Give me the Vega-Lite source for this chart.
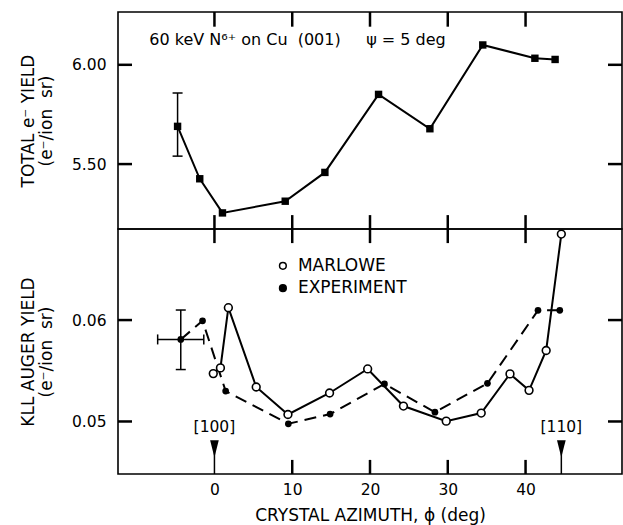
{
  "$schema": "https://vega.github.io/schema/vega-lite/v6.json",
  "padding": {"left": 18, "top": 9, "right": 1, "bottom": 0},
  "background": "white",
  "spacing": 0,
  "bounds": "flush",
  "datasets": {
    "total": [
      {"phi": -4.74, "yield": 5.69},
      {"phi": -1.89, "yield": 5.426},
      {"phi": 1.03, "yield": 5.254},
      {"phi": 9.1, "yield": 5.313},
      {"phi": 14.2, "yield": 5.458},
      {"phi": 21.1, "yield": 5.851},
      {"phi": 27.7, "yield": 5.678},
      {"phi": 34.5, "yield": 6.1},
      {"phi": 41.2, "yield": 6.033},
      {"phi": 43.8, "yield": 6.027}
    ],
    "totalErr": [
      {"phi": -4.74, "lo": 5.54, "hi": 5.858}
    ],
    "totalCaps": [
      {"phi": -4.74, "v": 5.54},
      {"phi": -4.74, "v": 5.858}
    ],
    "topNote": [
      {"phi": -8.38, "v": 6.127, "label": "60 keV N⁶⁺ on Cu\u00a0 (001)\u00a0\u00a0\u00a0\u00a0 ψ = 5 deg"}
    ],
    "topXTicks": [
      {"phi": 0, "a": 6.266, "b": 6.192}, {"phi": 10, "a": 6.266, "b": 6.192}, {"phi": 20, "a": 6.266, "b": 6.192}, {"phi": 30, "a": 6.266, "b": 6.192}, {"phi": 40, "a": 6.266, "b": 6.192},
      {"phi": 0, "a": 5.173, "b": 5.243}, {"phi": 10, "a": 5.173, "b": 5.243}, {"phi": 20, "a": 5.173, "b": 5.243}, {"phi": 30, "a": 5.173, "b": 5.243}, {"phi": 40, "a": 5.173, "b": 5.243}
    ],
    "topYTicks": [
      {"v": 5.5, "a": -12.4, "b": -10.6}, {"v": 6.0, "a": -12.4, "b": -10.6},
      {"v": 5.5, "a": 52.4, "b": 50.6}, {"v": 6.0, "a": 52.4, "b": 50.6}
    ],
    "botXTicks": [
      {"phi": 0, "a": 0.06898, "b": 0.06759}, {"phi": 10, "a": 0.06898, "b": 0.06759}, {"phi": 20, "a": 0.06898, "b": 0.06759}, {"phi": 30, "a": 0.06898, "b": 0.06759}, {"phi": 40, "a": 0.06898, "b": 0.06759},
      {"phi": 10, "a": 0.04482, "b": 0.04621}, {"phi": 20, "a": 0.04482, "b": 0.04621}, {"phi": 30, "a": 0.04482, "b": 0.04621}, {"phi": 40, "a": 0.04482, "b": 0.04621}
    ],
    "botYTicks": [
      {"v": 0.05, "a": -12.4, "b": -10.6}, {"v": 0.06, "a": -12.4, "b": -10.6},
      {"v": 0.05, "a": 52.4, "b": 50.6}, {"v": 0.06, "a": 52.4, "b": 50.6}
    ],
    "auger": [
      {"series": "MARLOWE", "phi": -0.15, "yield": 0.05472},
      {"series": "MARLOWE", "phi": 0.77, "yield": 0.05528},
      {"series": "MARLOWE", "phi": 1.79, "yield": 0.06122},
      {"series": "MARLOWE", "phi": 5.37, "yield": 0.0534},
      {"series": "MARLOWE", "phi": 9.45, "yield": 0.05069},
      {"series": "MARLOWE", "phi": 14.8, "yield": 0.05281},
      {"series": "MARLOWE", "phi": 19.7, "yield": 0.05518},
      {"series": "MARLOWE", "phi": 24.3, "yield": 0.05152},
      {"series": "MARLOWE", "phi": 29.8, "yield": 0.05003},
      {"series": "MARLOWE", "phi": 34.3, "yield": 0.05083},
      {"series": "MARLOWE", "phi": 38.0, "yield": 0.05469},
      {"series": "MARLOWE", "phi": 40.45, "yield": 0.05307},
      {"series": "MARLOWE", "phi": 42.65, "yield": 0.057},
      {"series": "MARLOWE", "phi": 44.6, "yield": 0.06848},
      {"series": "EXPERIMENT", "phi": -4.33, "yield": 0.05809},
      {"series": "EXPERIMENT", "phi": -1.53, "yield": 0.05993},
      {"series": "EXPERIMENT", "phi": 1.44, "yield": 0.053},
      {"series": "EXPERIMENT", "phi": 9.5, "yield": 0.04977},
      {"series": "EXPERIMENT", "phi": 14.87, "yield": 0.05073},
      {"series": "EXPERIMENT", "phi": 21.86, "yield": 0.0537},
      {"series": "EXPERIMENT", "phi": 28.35, "yield": 0.05092},
      {"series": "EXPERIMENT", "phi": 35.1, "yield": 0.05376},
      {"series": "EXPERIMENT", "phi": 41.6, "yield": 0.06096},
      {"series": "EXPERIMENT", "phi": 44.4, "yield": 0.06096}
    ],
    "augerVErr": [
      {"phi": -4.33, "lo": 0.05512, "hi": 0.06099}
    ],
    "augerHErr": [
      {"v": 0.05809, "lo": -7.3, "hi": -1.37}
    ],
    "augerVCaps": [
      {"phi": -4.33, "v": 0.05512},
      {"phi": -4.33, "v": 0.06099}
    ],
    "augerHCaps": [
      {"phi": -7.3, "v": 0.05809},
      {"phi": -1.37, "v": 0.05809}
    ],
    "arrows": [
      {"phi": 0, "head": 0.0473, "base": 0.04482, "labelY": 0.04944, "label": "[100]"},
      {"phi": 44.6, "head": 0.0473, "base": 0.04482, "labelY": 0.04944, "label": "[110]"}
    ],
    "legend": [
      {"phi": 8.8, "tphi": 10.73, "v": 0.06535, "label": "MARLOWE", "fill": "white"},
      {"phi": 8.8, "tphi": 10.73, "v": 0.06314, "label": "EXPERIMENT", "fill": "black"}
    ]
  },
  "vconcat": [
    {
      "width": 504,
      "height": 217,
      "layer": [
        {
          "data": {"name": "total"},
          "mark": {"type": "line", "color": "black", "strokeWidth": 2},
          "encoding": {
            "x": {"field": "phi", "type": "quantitative", "scale": {"domain": [-12.4, 52.4], "nice": false, "zero": false},
                  "axis": null},
            "y": {"field": "yield", "type": "quantitative", "scale": {"domain": [5.173, 6.266], "nice": false, "zero": false},
                  "axis": {"orient": "left", "values": [5.5, 6.0], "format": ".2f", "ticks": false, "title": ["TOTAL e⁻ YIELD", "(e⁻/ion\u00a0\u00a0sr)"]}}
          }
        },
        {
          "data": {"name": "topXTicks"},
          "mark": {"type": "rule", "color": "#000000", "strokeWidth": 2.5},
          "encoding": {
            "x": {"field": "phi", "type": "quantitative"},
            "y": {"field": "a", "type": "quantitative"},
            "y2": {"field": "b"}
          }
        },
        {
          "data": {"name": "topYTicks"},
          "mark": {"type": "rule", "color": "#000000", "strokeWidth": 2.5},
          "encoding": {
            "x": {"field": "a", "type": "quantitative"},
            "x2": {"field": "b"},
            "y": {"field": "v", "type": "quantitative"}
          }
        },
        {
          "data": {"name": "total"},
          "mark": {"type": "point", "shape": "square", "filled": true, "color": "black", "size": 55, "opacity": 1},
          "encoding": {
            "x": {"field": "phi", "type": "quantitative"},
            "y": {"field": "yield", "type": "quantitative"}
          }
        },
        {
          "data": {"name": "totalErr"},
          "mark": {"type": "rule", "color": "black", "strokeWidth": 1.5},
          "encoding": {
            "x": {"field": "phi", "type": "quantitative"},
            "y": {"field": "lo", "type": "quantitative"},
            "y2": {"field": "hi"}
          }
        },
        {
          "data": {"name": "totalCaps"},
          "mark": {"type": "tick", "orient": "horizontal", "color": "black", "size": 10, "thickness": 1.5, "opacity": 1},
          "encoding": {
            "x": {"field": "phi", "type": "quantitative"},
            "y": {"field": "v", "type": "quantitative"}
          }
        },
        {
          "data": {"name": "topNote"},
          "mark": {"type": "text", "align": "left", "baseline": "middle", "font": "DejaVu Sans", "fontSize": 16, "color": "black"},
          "encoding": {
            "x": {"field": "phi", "type": "quantitative"},
            "y": {"field": "v", "type": "quantitative"},
            "text": {"field": "label"}
          }
        }
      ]
    },
    {
      "width": 504,
      "height": 245,
      "layer": [
        {
          "data": {"name": "auger"},
          "transform": [{"filter": "datum.series === 'EXPERIMENT'"}],
          "mark": {"type": "line", "color": "black", "strokeWidth": 2, "strokeDash": [12, 7]},
          "encoding": {
            "x": {"field": "phi", "type": "quantitative", "scale": {"domain": [-12.4, 52.4], "nice": false, "zero": false},
                  "axis": {"orient": "bottom", "values": [0, 10, 20, 30, 40], "ticks": false, "labelPadding": 8, "titlePadding": 10, "title": "CRYSTAL AZIMUTH, ϕ (deg)"}},
            "y": {"field": "yield", "type": "quantitative", "scale": {"domain": [0.04482, 0.06898], "nice": false, "zero": false},
                  "axis": {"orient": "left", "values": [0.05, 0.06], "format": ".2f", "ticks": false, "title": ["KLL AUGER YIELD", "(e⁻/ion\u00a0\u00a0sr)"]}}
          }
        },
        {
          "data": {"name": "botXTicks"},
          "mark": {"type": "rule", "color": "#000000", "strokeWidth": 2.5},
          "encoding": {
            "x": {"field": "phi", "type": "quantitative"},
            "y": {"field": "a", "type": "quantitative"},
            "y2": {"field": "b"}
          }
        },
        {
          "data": {"name": "botYTicks"},
          "mark": {"type": "rule", "color": "#000000", "strokeWidth": 2.5},
          "encoding": {
            "x": {"field": "a", "type": "quantitative"},
            "x2": {"field": "b"},
            "y": {"field": "v", "type": "quantitative"}
          }
        },
        {
          "data": {"name": "auger"},
          "transform": [{"filter": "datum.series === 'MARLOWE'"}],
          "mark": {"type": "line", "color": "black", "strokeWidth": 2},
          "encoding": {
            "x": {"field": "phi", "type": "quantitative"},
            "y": {"field": "yield", "type": "quantitative"}
          }
        },
        {
          "data": {"name": "augerVErr"},
          "mark": {"type": "rule", "color": "black", "strokeWidth": 1.5},
          "encoding": {
            "x": {"field": "phi", "type": "quantitative"},
            "y": {"field": "lo", "type": "quantitative"},
            "y2": {"field": "hi"}
          }
        },
        {
          "data": {"name": "augerHErr"},
          "mark": {"type": "rule", "color": "black", "strokeWidth": 1.5},
          "encoding": {
            "x": {"field": "lo", "type": "quantitative"},
            "x2": {"field": "hi"},
            "y": {"field": "v", "type": "quantitative"}
          }
        },
        {
          "data": {"name": "augerVCaps"},
          "mark": {"type": "tick", "orient": "horizontal", "color": "black", "size": 10, "thickness": 1.5, "opacity": 1},
          "encoding": {
            "x": {"field": "phi", "type": "quantitative"},
            "y": {"field": "v", "type": "quantitative"}
          }
        },
        {
          "data": {"name": "augerHCaps"},
          "mark": {"type": "tick", "orient": "vertical", "color": "black", "size": 10, "thickness": 1.5, "opacity": 1},
          "encoding": {
            "x": {"field": "phi", "type": "quantitative"},
            "y": {"field": "v", "type": "quantitative"}
          }
        },
        {
          "data": {"name": "auger"},
          "transform": [{"filter": "datum.series === 'EXPERIMENT'"}],
          "mark": {"type": "point", "shape": "circle", "filled": true, "color": "black", "size": 45, "opacity": 1},
          "encoding": {
            "x": {"field": "phi", "type": "quantitative"},
            "y": {"field": "yield", "type": "quantitative"}
          }
        },
        {
          "data": {"name": "auger"},
          "transform": [{"filter": "datum.series === 'MARLOWE'"}],
          "mark": {"type": "point", "shape": "circle", "fill": "white", "stroke": "black", "strokeWidth": 1.6, "size": 60, "opacity": 1, "fillOpacity": 1},
          "encoding": {
            "x": {"field": "phi", "type": "quantitative"},
            "y": {"field": "yield", "type": "quantitative"}
          }
        },
        {
          "data": {"name": "arrows"},
          "mark": {"type": "rule", "color": "black", "strokeWidth": 1.5},
          "encoding": {
            "x": {"field": "phi", "type": "quantitative"},
            "y": {"field": "head", "type": "quantitative"},
            "y2": {"field": "base"}
          }
        },
        {
          "data": {"name": "arrows"},
          "mark": {"type": "point", "shape": "M-0.5,-1L0.5,-1L0,1Z", "filled": true, "color": "black", "size": 300, "opacity": 1},
          "encoding": {
            "x": {"field": "phi", "type": "quantitative"},
            "y": {"field": "head", "type": "quantitative"}
          }
        },
        {
          "data": {"name": "arrows"},
          "mark": {"type": "text", "align": "center", "baseline": "middle", "font": "DejaVu Sans", "fontSize": 15.5, "color": "black"},
          "encoding": {
            "x": {"field": "phi", "type": "quantitative"},
            "y": {"field": "labelY", "type": "quantitative"},
            "text": {"field": "label"}
          }
        },
        {
          "data": {"name": "legend"},
          "mark": {"type": "point", "shape": "circle", "stroke": "black", "strokeWidth": 1.5, "size": 45, "opacity": 1, "fillOpacity": 1},
          "encoding": {
            "x": {"field": "phi", "type": "quantitative"},
            "y": {"field": "v", "type": "quantitative"},
            "fill": {"field": "fill", "type": "nominal", "scale": null}
          }
        },
        {
          "data": {"name": "legend"},
          "mark": {"type": "text", "align": "left", "baseline": "middle", "font": "DejaVu Sans", "fontSize": 17, "color": "black"},
          "encoding": {
            "x": {"field": "tphi", "type": "quantitative"},
            "y": {"field": "v", "type": "quantitative"},
            "text": {"field": "label"}
          }
        }
      ]
    }
  ],
  "config": {
    "view": {"stroke": "black", "strokeWidth": 1.6},
    "axis": {
      "domain": false,
      "grid": false,
      "labelPadding": 12,
      "labelFont": "DejaVu Sans",
      "labelFontSize": 15.5,
      "labelColor": "black",
      "titleFont": "DejaVu Sans",
      "titleFontSize": 17,
      "titleFontWeight": "normal",
      "titleColor": "black",
      "titleLineHeight": 18,
      "titlePadding": 16
    }
  }
}
